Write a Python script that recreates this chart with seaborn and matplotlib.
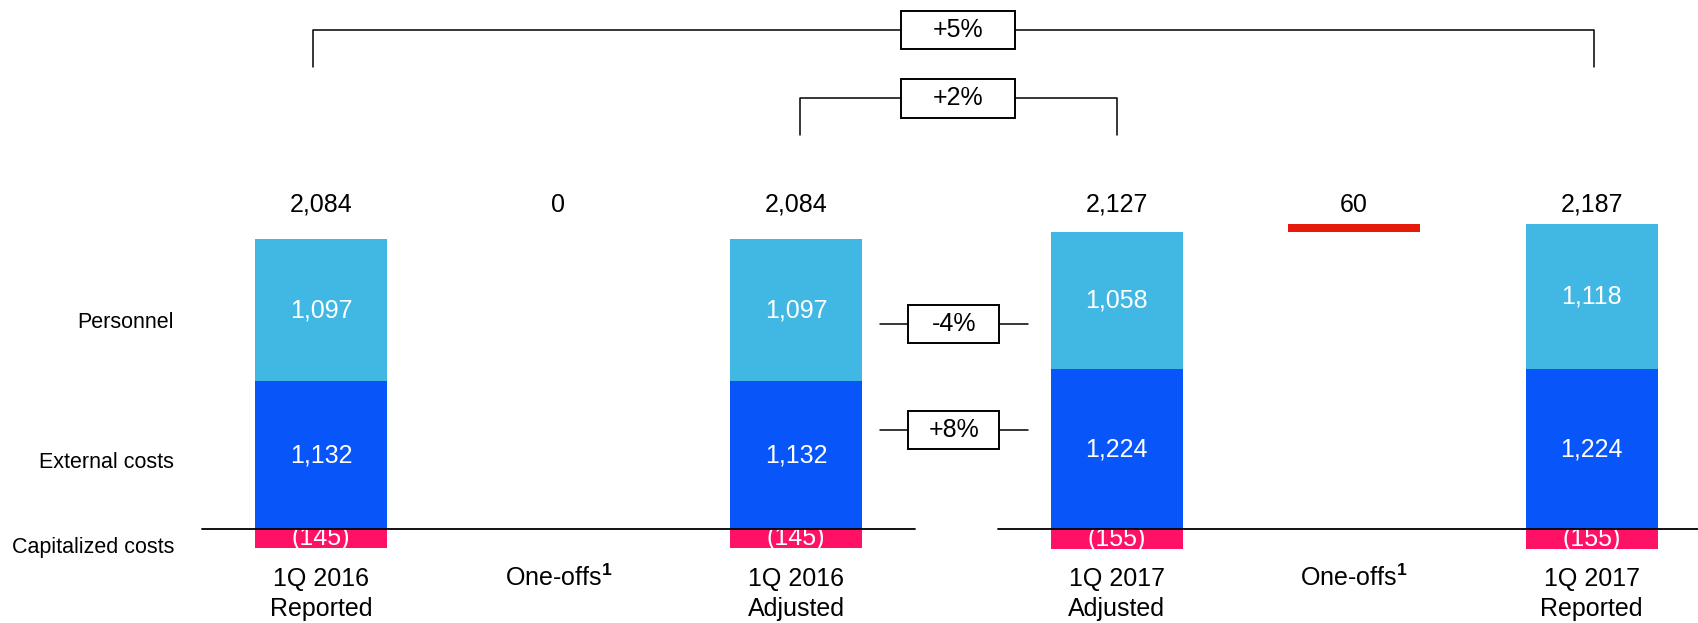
import matplotlib.pyplot as plt
import pandas as pd
import seaborn as sns
from matplotlib.patches import Rectangle

# ---- data ----
categories = ["1Q 2016\nReported", "One-offs$^{\\mathbf{1}}$", "1Q 2016\nAdjusted",
              "1Q 2017\nAdjusted", "One-offs$^{\\mathbf{1}}$", "1Q 2017\nReported"]
personnel = [1097, 0, 1097, 1058, 0, 1118]
external_costs = [1132, 0, 1132, 1224, 0, 1224]
capitalized = [-145, 0, -145, -155, 0, -155]
one_offs = [0, 0, 0, 0, 60, 0]
totals = [2084, 0, 2084, 2127, 60, 2187]
row_labels = ["Personnel", "External costs", "Capitalized costs"]
growth_top = ["+5%", "+2%"]
growth_mid = ["-4%", "+8%"]

# ---- layout ----
x_pos = [0, 1, 2, 3.35, 4.35, 5.35]
BAR_W = 0.555
C_PERS = "#41B8E4"
C_EXT = "#0855FA"
C_CAP = "#FF1166"
C_ONE = "#E51A0A"

# conversion helpers (figure pixels -> data units)
PX_X0, PX_PER_X = 321, 237.5
PX_Y0, PX_PER_V = 528.7, 0.1301


def vx(px):
    return (px - PX_X0) / PX_PER_X


def vy(py):
    return (PX_Y0 - py) / PX_PER_V


sns.set_theme(style="white")
plt.rcParams["font.family"] = ["Liberation Sans", "DejaVu Sans"]
plt.rcParams["text.color"] = "black"
plt.rcParams["mathtext.fontset"] = "custom"
plt.rcParams["mathtext.rm"] = "Liberation Sans"
plt.rcParams["mathtext.bf"] = "Liberation Sans:bold"

df = pd.DataFrame({
    "x": x_pos,
    "personnel": personnel,
    "external": external_costs,
    "capitalized": capitalized,
    "one_offs": one_offs,
})
df["stack_top"] = df["personnel"] + df["external"]

fig = plt.figure(figsize=(16.99, 6.23), dpi=100)
ax = fig.add_axes([0, 0, 1, 1])

# stacked bars: personnel on top of external costs, capitalized below zero
sns.barplot(data=df, x="x", y="stack_top", native_scale=True, color=C_PERS,
            saturation=1, width=BAR_W, linewidth=0, errorbar=None, ax=ax)
sns.barplot(data=df, x="x", y="external", native_scale=True, color=C_EXT,
            saturation=1, width=BAR_W, linewidth=0, errorbar=None, ax=ax)
sns.barplot(data=df, x="x", y="capitalized", native_scale=True, color=C_CAP,
            saturation=1, width=BAR_W, linewidth=0, errorbar=None, ax=ax)
cap_bars = ax.containers[-1]

# floating one-off bar
oo = df[df["one_offs"] > 0]
base = df["stack_top"].iloc[3]
sns.barplot(data=oo, x="x", y="one_offs", native_scale=True, color=C_ONE,
            saturation=1, width=BAR_W, linewidth=0, errorbar=None, ax=ax,
            bottom=base)

FS = 18
for i in range(len(x_pos)):
    x = x_pos[i]
    ext, pers, cap = external_costs[i], personnel[i], capitalized[i]
    if ext > 0:
        ax.text(x, ext / 2, f"{ext:,}", color="white",
                ha="center", va="center", fontsize=FS)
        ax.text(x, ext + pers / 2, f"{pers:,}",
                color="white", ha="center", va="center", fontsize=FS)
    if cap < 0:
        t = ax.text(x, cap / 2, f"({-cap:,})",
                    color="white", ha="center", va="center", fontsize=FS)
        t.set_clip_path(cap_bars.patches[i])
        t.set_clip_on(True)
    ax.text(x, vy(204.5), f"{totals[i]:,}", ha="center", va="center",
            fontsize=FS, color="black")
    # category labels
    if "\n" in categories[i]:
        ax.text(x, vy(594), categories[i], ha="center", va="center",
                fontsize=FS, linespacing=1.3)
    else:
        ax.text(x, vy(578), categories[i], ha="center", va="center", fontsize=FS)

# zero line (broken between the adjusted bars)
ax.plot([x_pos[0] - 0.5, x_pos[2] + 0.5], [0, 0], color="black", lw=1.3, zorder=5)
ax.plot([x_pos[3] - 0.5, 10], [0, 0], color="black", lw=1.3, zorder=5)

# row labels on the left
for lab, py in zip(row_labels, [322.7, 462.7, 547.7]):
    ax.text(vx(174), vy(py), lab, ha="right", va="center", fontsize=15.5)


def draw_box(xc, yc, w_px, h_px, label):
    w = w_px / PX_PER_X
    h = h_px / PX_PER_V
    ax.add_patch(Rectangle((xc - w / 2, yc - h / 2), w, h, facecolor="white",
                           edgecolor="black", lw=1.4, zorder=6))
    ax.text(xc, yc, label, ha="center", va="center", fontsize=FS, zorder=7)


mid = (x_pos[2] + x_pos[3]) / 2

# top brackets
brackets = [(x_pos[0] - 0.035, x_pos[5] + 0.01, 30, 67, 113.5),
            (x_pos[2] + 0.015, x_pos[3], 98.3, 135, 113.5)]
for (xl, xr, py_top, py_bot, bw), lab in zip(brackets, growth_top):
    ax.plot([xl, xl, xr, xr], [vy(py_bot), vy(py_top), vy(py_top), vy(py_bot)],
            color="black", lw=1.1, zorder=4)
    draw_box(mid + 0.007, vy(py_top), bw, 38.5, lab)

# middle comparison boxes
for lab, py in zip(growth_mid, [324, 429.7]):
    ax.plot([vx(880), vx(1028)], [vy(py), vy(py)], color="black", lw=1.1, zorder=4)
    draw_box(mid - 0.01, vy(py), 91, 37.7, lab)

ax.set_xlim(vx(0), vx(1699))
ax.set_ylim(vy(623), vy(0))
ax.axis("off")

fig.savefig("out.png", dpi=100)
